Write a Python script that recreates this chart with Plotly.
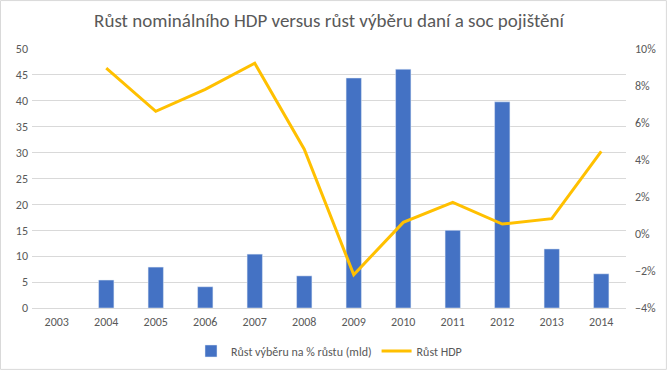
import plotly.graph_objects as go

years = ["2003", "2004", "2005", "2006", "2007", "2008", "2009", "2010", "2011", "2012", "2013", "2014"]
vyber = [None, 5.4, 7.9, 4.1, 10.4, 6.2, 44.4, 46.1, 15.0, 39.8, 11.4, 6.6]
hdp = [None, 8.96, 6.63, 7.82, 9.23, 4.58, -2.2, 0.63, 1.71, 0.54, 0.83, 4.47]

title = "Růst nominálního HDP versus růst výběru daní a soc pojištění"
name_bar = "Růst výběru na % růstu (mld)"
name_line = "Růst HDP"

font_family = "Carlito, Lato, 'Liberation Sans', sans-serif"
txt = "#595959"

fig = go.Figure()
fig.add_trace(go.Bar(x=years, y=vyber, name=name_bar, marker_color="#4472C4",
                     width=0.31, yaxis="y"))
fig.add_trace(go.Scatter(x=years, y=hdp, name=name_line, mode="lines",
                         line=dict(color="#FFC000", width=3), yaxis="y2"))

fig.update_layout(
    width=667, height=370,
    margin=dict(l=32, r=41, t=49, b=62, autoexpand=False),
    paper_bgcolor="white", plot_bgcolor="white",
    font=dict(family=font_family, size=12, color=txt),
    title=dict(text=title, x=0.5, xref="paper", xanchor="center", y=0.945, yanchor="middle",
               font=dict(size=19, color=txt)),
    xaxis=dict(type="category", showgrid=False, showline=True, linecolor="#d9d9d9",
               ticks="", ticklabelstandoff=3, tickfont=dict(size=12, color=txt)),
    yaxis=dict(range=[0, 50], dtick=5, showgrid=True, gridcolor="#d9d9d9",
               zeroline=False, showline=False, ticks="", ticklabelstandoff=3,
               tickfont=dict(size=12, color=txt)),
    yaxis2=dict(range=[-4, 10], dtick=2, overlaying="y", side="right", showgrid=False,
                zeroline=False, showline=False, ticksuffix="%", ticks="",
                ticklabelstandoff=8, tickfont=dict(size=12, color=txt)),
    legend=dict(orientation="h", x=0.5, xanchor="center", y=-0.11, yanchor="top",
                font=dict(size=12, color=txt)),
    bargap=0.2,
    shapes=[dict(type="rect", xref="paper", yref="paper",
                 x0=-0.053, x1=1.068, y0=-0.237, y1=1.187,
                 line=dict(color="#d9d9d9", width=1), layer="below")],
)

fig.write_html("out.html", config={"displayModeBar": False},
               post_script="document.body.style.margin='0';document.body.style.overflow='hidden';")
